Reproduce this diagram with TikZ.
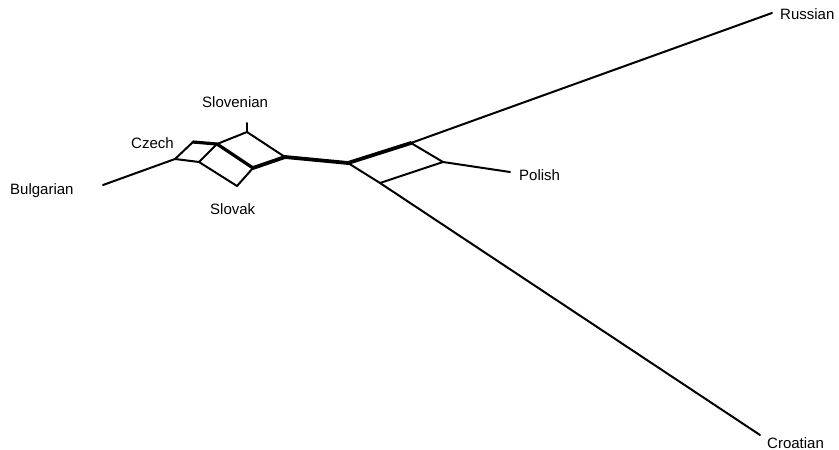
\documentclass[tikz,border=0pt]{standalone}
\usepackage{fontspec}
\setmainfont{Liberation Sans}
\begin{document}
\begin{tikzpicture}[x=1pt,y=-1pt,
  edge/.style={line width=2pt, line cap=round, line join=round},
  heavy/.style={line width=3.2pt, line cap=round, line join=round},
  heavier/.style={line width=3.8pt, line cap=round, line join=round},
  taxon/.style={font=\fontsize{15}{17}\selectfont, inner sep=0pt}]
\useasboundingbox (0,0) rectangle (839,450);
% internal vertices of the splits graph
\coordinate (A) at (175,159);
\coordinate (B) at (193,142);
\coordinate (C) at (217,144);
\coordinate (D) at (199,162);
\coordinate (E) at (247,132);
\coordinate (F) at (253,168);
\coordinate (S) at (237,186);
\coordinate (G) at (285,157);
\coordinate (H) at (348,163);
\coordinate (I) at (411,143);
\coordinate (J) at (443,162);
\coordinate (K) at (380,183);
% leaf ends
\coordinate (bul) at (103,185);
\coordinate (slv) at (247,123);
\coordinate (rus) at (772,13);
\coordinate (pol) at (510,172);
\coordinate (cro) at (760,435);
% taxon labels
\node[taxon, anchor=west] (lbul) at (10,191) {Bulgarian};
\node[taxon, anchor=west] (lcz) at (131,143) {Czech};
\node[taxon, anchor=west] (lslv) at (202,102) {Slovenian};
\node[taxon, anchor=west] (lslk) at (210,209) {Slovak};
\node[taxon, anchor=west] (lpol) at (519,175) {Polish};
\node[taxon, anchor=west] (lrus) at (780,14) {Russian};
\node[taxon, anchor=west] (lcro) at (767,443) {Croatian};
% edges
\draw[edge] (bul) -- (A);
\draw[edge] (A) -- (B);
\draw[edge] (A) -- (D);
\draw[heavy] (B) -- (C);
\draw[edge] (D) -- (C);
\draw[edge] (D) -- (S);
\draw[edge] (S) -- (F);
\draw[heavy] (C) -- (F);
\draw[edge] (C) -- (E);
\draw[edge] (E) -- (slv);
\draw[edge] (E) -- (G);
\draw[heavier] (F) -- (G);
\draw[heavier] (G) -- (H);
\draw[heavier] (H) -- (I);
\draw[edge] (H) -- (K);
\draw[edge] (I) -- (J);
\draw[edge] (K) -- (J);
\draw[edge] (I) -- (rus);
\draw[edge] (J) -- (pol);
\draw[edge] (K) -- (cro);
\end{tikzpicture}
\end{document}
